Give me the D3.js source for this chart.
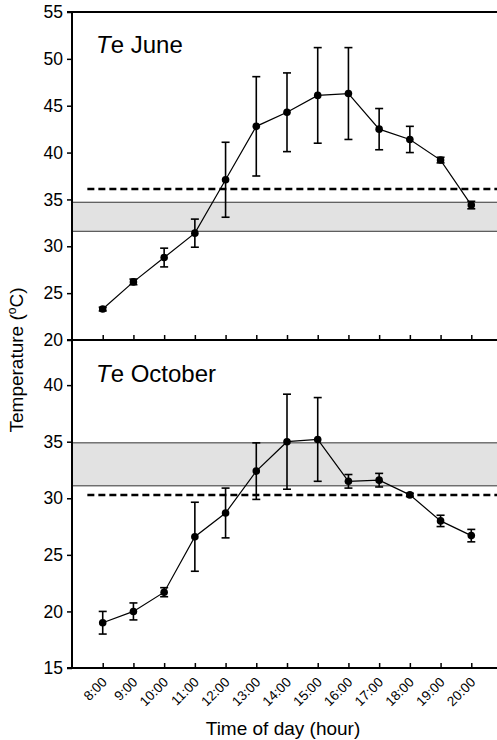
<!DOCTYPE html>
<html>
<head>
<meta charset="utf-8">
<script src="https://cdn.jsdelivr.net/npm/d3@7"></script>
<style>
  html, body { margin: 0; padding: 0; background: #fff; }
  svg { display: block; font-family: "Liberation Sans", Arial, sans-serif; }
</style>
</head>
<body>
<div id="chart"></div>
<script>
// Hours of the day (x values) and tick labels
const hours = [8, 9, 10, 11, 12, 13, 14, 15, 16, 17, 18, 19, 20];
const hourLabels = ['8:00', '9:00', '10:00', '11:00', '12:00', '13:00', '14:00',
                    '15:00', '16:00', '17:00', '18:00', '19:00', '20:00'];

// June operative temperature, mean and error
const juneMean = [23.3, 26.2, 28.8, 31.4, 37.1, 42.8, 44.3, 46.1, 46.3, 42.5, 41.4, 39.2, 34.4];
const juneErr  = [0.2, 0.3, 1.0, 1.5, 4.0, 5.3, 4.2, 5.1, 4.9, 2.2, 1.4, 0.3, 0.4];
// October operative temperature, mean and error
const octMean = [19.0, 20.0, 21.7, 26.6, 28.7, 32.4, 35.0, 35.2, 31.5, 31.6, 30.3, 28.0, 26.7];
const octErr  = [1.0, 0.75, 0.4, 3.05, 2.2, 2.5, 4.2, 3.7, 0.6, 0.6, 0.15, 0.5, 0.55];

// Reference band (preferred range) and dashed line, per month
const juneBand = [31.6, 34.7];
const juneDash = [36.1];
const octBand = [31.1, 34.9];
const octDash = [30.3];

const juneTicks = [20, 25, 30, 35, 40, 45, 50, 55];
const octTicks = [15, 20, 25, 30, 35, 40];

const width = 497, height = 740;
const left = 72, right = 502;

const svg = d3.select('#chart').append('svg')
    .attr('width', width)
    .attr('height', height);

const x = d3.scaleLinear().domain([7, 21]).range([left, right]);

const panels = [
    { title: 'June', mean: juneMean, err: juneErr, band: juneBand, dash: juneDash,
      ticks: juneTicks, domain: [20, 55], range: [340, 12] },
    { title: 'October', mean: octMean, err: octErr, band: octBand, dash: octDash,
      ticks: octTicks, domain: [15, 43.9], range: [668, 341] }
];

panels.forEach((p, i) => {
    const y = d3.scaleLinear().domain(p.domain).range(p.range);
    const g = svg.append('g');

    // grey band with thin outlines
    g.append('rect')
        .attr('x', left)
        .attr('y', y(p.band[1]))
        .attr('width', width - left)
        .attr('height', y(p.band[0]) - y(p.band[1]))
        .attr('fill', '#e2e2e2');
    g.selectAll('.band-edge')
        .data(p.band)
        .enter()
        .append('line')
        .attr('x1', left).attr('x2', width)
        .attr('y1', d => y(d)).attr('y2', d => y(d))
        .attr('stroke', '#333')
        .attr('stroke-width', 1);

    // dashed reference line
    g.selectAll('.dash')
        .data(p.dash)
        .enter()
        .append('line')
        .attr('x1', x(7.5)).attr('x2', width)
        .attr('y1', d => y(d)).attr('y2', d => y(d))
        .attr('stroke', '#000')
        .attr('stroke-width', 2.5)
        .attr('stroke-dasharray', '7,4');

    // y axis
    const yAxis = g.append('g')
        .attr('transform', `translate(${left},0)`)
        .call(d3.axisLeft(y).tickValues(p.ticks).tickSize(5).tickPadding(4).tickFormat(d3.format('d')));
    yAxis.select('.domain').remove();
    yAxis.selectAll('line').attr('stroke', '#000').attr('stroke-width', 1.5);
    yAxis.selectAll('text').attr('font-size', '17.5px').attr('fill', '#000');

    // x ticks, pointing into the plot from the bottom edge
    const xAxis = g.append('g')
        .attr('transform', `translate(0,${p.range[0]})`)
        .call(d3.axisTop(x).tickValues(hours).tickSize(5).tickFormat(''));
    xAxis.select('.domain').remove();
    xAxis.selectAll('line').attr('stroke', '#000').attr('stroke-width', 1.5);

    // frame lines
    g.append('line')
        .attr('x1', left).attr('x2', left)
        .attr('y1', p.range[1]).attr('y2', p.range[0])
        .attr('stroke', '#000').attr('stroke-width', 2);
    g.append('line')
        .attr('x1', left - 5).attr('x2', width)
        .attr('y1', p.range[0]).attr('y2', p.range[0])
        .attr('stroke', '#000').attr('stroke-width', 2);
    if (i === 0) {
        g.append('line')
            .attr('x1', left - 5).attr('x2', width)
            .attr('y1', p.range[1]).attr('y2', p.range[1])
            .attr('stroke', '#000').attr('stroke-width', 2);
    }

    const pts = hours.map((h, k) => ({ h: h, m: p.mean[k], e: p.err[k] }));

    // error bars
    const eb = g.selectAll('.err')
        .data(pts)
        .enter()
        .append('g')
        .attr('stroke', '#000')
        .attr('stroke-width', 1.6);
    eb.append('line')
        .attr('x1', d => x(d.h)).attr('x2', d => x(d.h))
        .attr('y1', d => y(d.m + d.e)).attr('y2', d => y(d.m - d.e));
    eb.append('line')
        .attr('x1', d => x(d.h) - 4).attr('x2', d => x(d.h) + 4)
        .attr('y1', d => y(d.m + d.e)).attr('y2', d => y(d.m + d.e));
    eb.append('line')
        .attr('x1', d => x(d.h) - 4).attr('x2', d => x(d.h) + 4)
        .attr('y1', d => y(d.m - d.e)).attr('y2', d => y(d.m - d.e));

    // connecting line
    g.append('path')
        .datum(pts)
        .attr('fill', 'none')
        .attr('stroke', '#000')
        .attr('stroke-width', 1.2)
        .attr('d', d3.line().x(d => x(d.h)).y(d => y(d.m)));

    // markers
    g.selectAll('.pt')
        .data(pts)
        .enter()
        .append('circle')
        .attr('cx', d => x(d.h))
        .attr('cy', d => y(d.m))
        .attr('r', 3.8)
        .attr('fill', '#000');

    // panel title
    const t = g.append('text')
        .attr('x', 96)
        .attr('y', p.range[1] + 41)
        .attr('font-size', '24px')
        .attr('fill', '#000');
    t.append('tspan').attr('font-style', 'italic').text('T');
    t.append('tspan').text('e ' + p.title);
});

// rotated hour labels under the lower panel
svg.selectAll('.hour-label')
    .data(hours)
    .enter()
    .append('text')
    .attr('class', 'hour-label')
    .attr('text-anchor', 'end')
    .attr('font-size', '13.5px')
    .attr('fill', '#000')
    .attr('transform', (d) => `translate(${x(d) + 5},${683}) rotate(-45)`)
    .text((d, k) => hourLabels[k]);

// axis titles
svg.append('text')
    .attr('x', 283)
    .attr('y', 735)
    .attr('text-anchor', 'middle')
    .attr('font-size', '19px')
    .text('Time of day (hour)');

const yl = svg.append('text')
    .attr('transform', 'translate(23,360) rotate(-90)')
    .attr('text-anchor', 'middle')
    .attr('font-size', '19px');
yl.append('tspan').text('Temperature (');
yl.append('tspan').attr('font-size', '12px').attr('dy', -7).text('o');
yl.append('tspan').attr('dy', 7).text('C)');
</script>
</body>
</html>
